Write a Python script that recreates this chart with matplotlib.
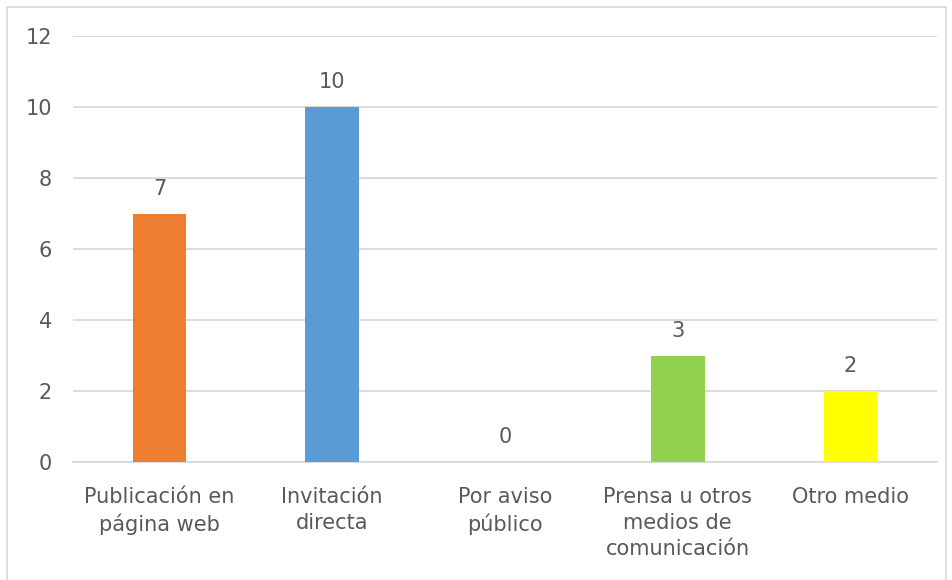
import matplotlib
matplotlib.use("Agg")
import matplotlib.pyplot as plt
from matplotlib.patches import Rectangle

plt.rcParams["font.family"] = ["DejaVu Sans"]

categories = ["Publicación en\npágina web", "Invitación\ndirecta", "Por aviso\npúblico",
              "Prensa u otros\nmedios de\ncomunicación", "Otro medio"]
values = [7, 10, 0, 3, 2]
colors = ["#ED7D31", "#5B9BD5", "#A5A5A5", "#92D050", "#FFFF00"]
yticks = [0, 2, 4, 6, 8, 10, 12]

W, H = 952, 580
fig = plt.figure(figsize=(W / 100, H / 100), dpi=100)
fig.patches.append(Rectangle((7 / W, -0.01), (946 - 7) / W, 1 - 7 / H + 0.01,
                             transform=fig.transFigure, fill=False,
                             edgecolor="#D9D9D9", linewidth=1.2))
ax = fig.add_axes([73 / W, 1 - 462 / H, (937 - 73) / W, (462 - 36) / H])

txt = "#595959"
fs = 15
x = range(len(categories))
bars = ax.bar(x, values, width=0.31, color=colors, zorder=3)
for i, v in enumerate(values):
    ax.text(i, v + 0.42, str(v), ha="center", va="bottom", fontsize=fs, color=txt)

ax.set_xlim(-0.5, len(categories) - 0.5)
ax.set_ylim(0, 12)
ax.set_yticks(yticks)
ax.set_xticks(list(x))
ax.set_xticklabels(categories, fontsize=fs, color=txt, linespacing=1.36, va="top")
ax.tick_params(axis="y", labelsize=fs, labelcolor=txt, length=0, pad=15)
ax.tick_params(axis="x", length=0, pad=18)
ax.grid(axis="y", color="#D9D9D9", linewidth=1.3, zorder=0)
for s in ["top", "right", "left"]:
    ax.spines[s].set_visible(False)
ax.spines["bottom"].set_color("#D9D9D9")
ax.spines["bottom"].set_linewidth(1.3)

fig.savefig("out.png", dpi=100)
